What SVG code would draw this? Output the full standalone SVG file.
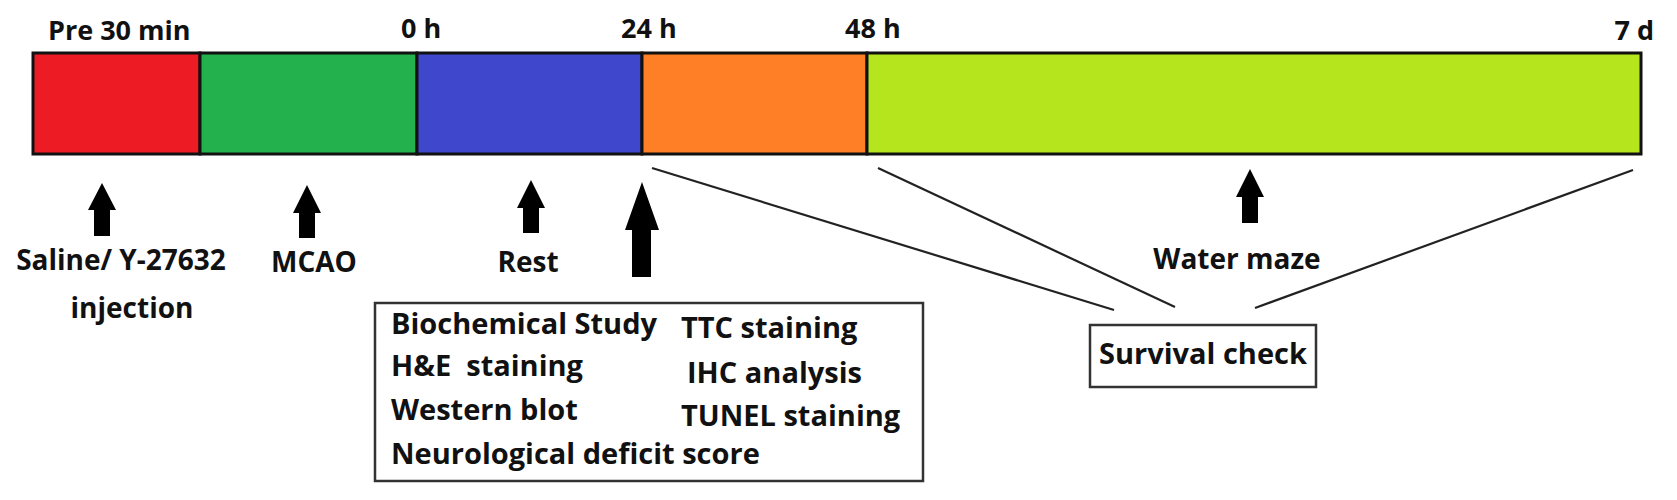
<svg xmlns="http://www.w3.org/2000/svg" width="1677" height="500" viewBox="0 0 1677 500">
<style>
  text { font-family: "Open Sans", "Noto Sans", "Liberation Sans", sans-serif; font-weight: bold; fill: #111; }
  .top { font-size: 27px; }
  .lbl { font-size: 28px; }
  .box { font-size: 29px; }
  .seg { stroke: #111; stroke-width: 3; }
  .arrow { fill: #000; }
  .conn { stroke: #222; stroke-width: 2.2; fill: none; }
  .frame { fill: #fff; stroke: #333; stroke-width: 2.5; }
</style>
<rect width="1677" height="500" fill="#fff"/>

<g id="timeline">
  <rect class="seg" x="33" y="53" width="167" height="101" fill="#ED1C24"/>
  <rect class="seg" x="200" y="53" width="217" height="101" fill="#22B14C"/>
  <rect class="seg" x="417" y="53" width="225" height="101" fill="#3F48CC"/>
  <rect class="seg" x="642" y="53" width="225" height="101" fill="#FF7F27"/>
  <rect class="seg" x="867" y="53" width="774" height="101" fill="#B5E61D"/>
</g>

<g id="time-labels">
  <text class="top" x="48" y="40">Pre 30 min</text>
  <text class="top" x="401" y="38">0 h</text>
  <text class="top" x="621" y="38">24 h</text>
  <text class="top" x="845" y="38">48 h</text>
  <text class="top" x="1654" y="40" text-anchor="end">7 d</text>
</g>

<g id="injection">
  <polygon class="arrow" points="102,183 116,210 110,210 110,236 94,236 94,210 88,210"/>
  <text class="lbl" x="121" y="270" text-anchor="middle">Saline/ Y-27632</text>
  <text class="lbl" x="132" y="318" text-anchor="middle">injection</text>
</g>

<g id="mcao">
  <polygon class="arrow" points="307,185 321,213 315,213 315,238 299,238 299,213 293,213"/>
  <text class="lbl" x="314" y="272" text-anchor="middle">MCAO</text>
</g>

<g id="rest">
  <polygon class="arrow" points="531,180 545,208 539,208 539,233 523,233 523,208 517,208"/>
  <text class="lbl" x="528" y="272" text-anchor="middle">Rest</text>
</g>

<g id="day1">
  <polygon class="arrow" points="642,182 659,230 651,230 651,277 632,277 632,230 625,230"/>
</g>

<g id="assays">
  <rect class="frame" x="375" y="303" width="548" height="178"/>
  <text class="box" x="391" y="334">Biochemical Study</text>
  <text class="box" x="391" y="376" style="white-space:pre">H&amp;E  staining</text>
  <text class="box" x="391" y="420">Western blot</text>
  <text class="box" x="391" y="464">Neurological deficit score</text>
  <text class="box" x="681" y="338">TTC staining</text>
  <text class="box" x="687" y="383">IHC analysis</text>
  <text class="box" x="681" y="426">TUNEL staining</text>
</g>

<g id="water-maze">
  <polygon class="arrow" points="1250,169 1264,197 1258,197 1258,223 1242,223 1242,197 1236,197"/>
  <text class="lbl" x="1237" y="269" text-anchor="middle">Water maze</text>
</g>

<g id="survival">
  <rect class="frame" x="1090" y="325" width="226" height="62"/>
  <text class="box" x="1203" y="364" text-anchor="middle">Survival check</text>
</g>

<g id="connectors">
  <line class="conn" x1="652" y1="168" x2="1114" y2="310"/>
  <line class="conn" x1="878" y1="168" x2="1175" y2="307"/>
  <line class="conn" x1="1633" y1="170" x2="1255" y2="308"/>
</g>
</svg>
